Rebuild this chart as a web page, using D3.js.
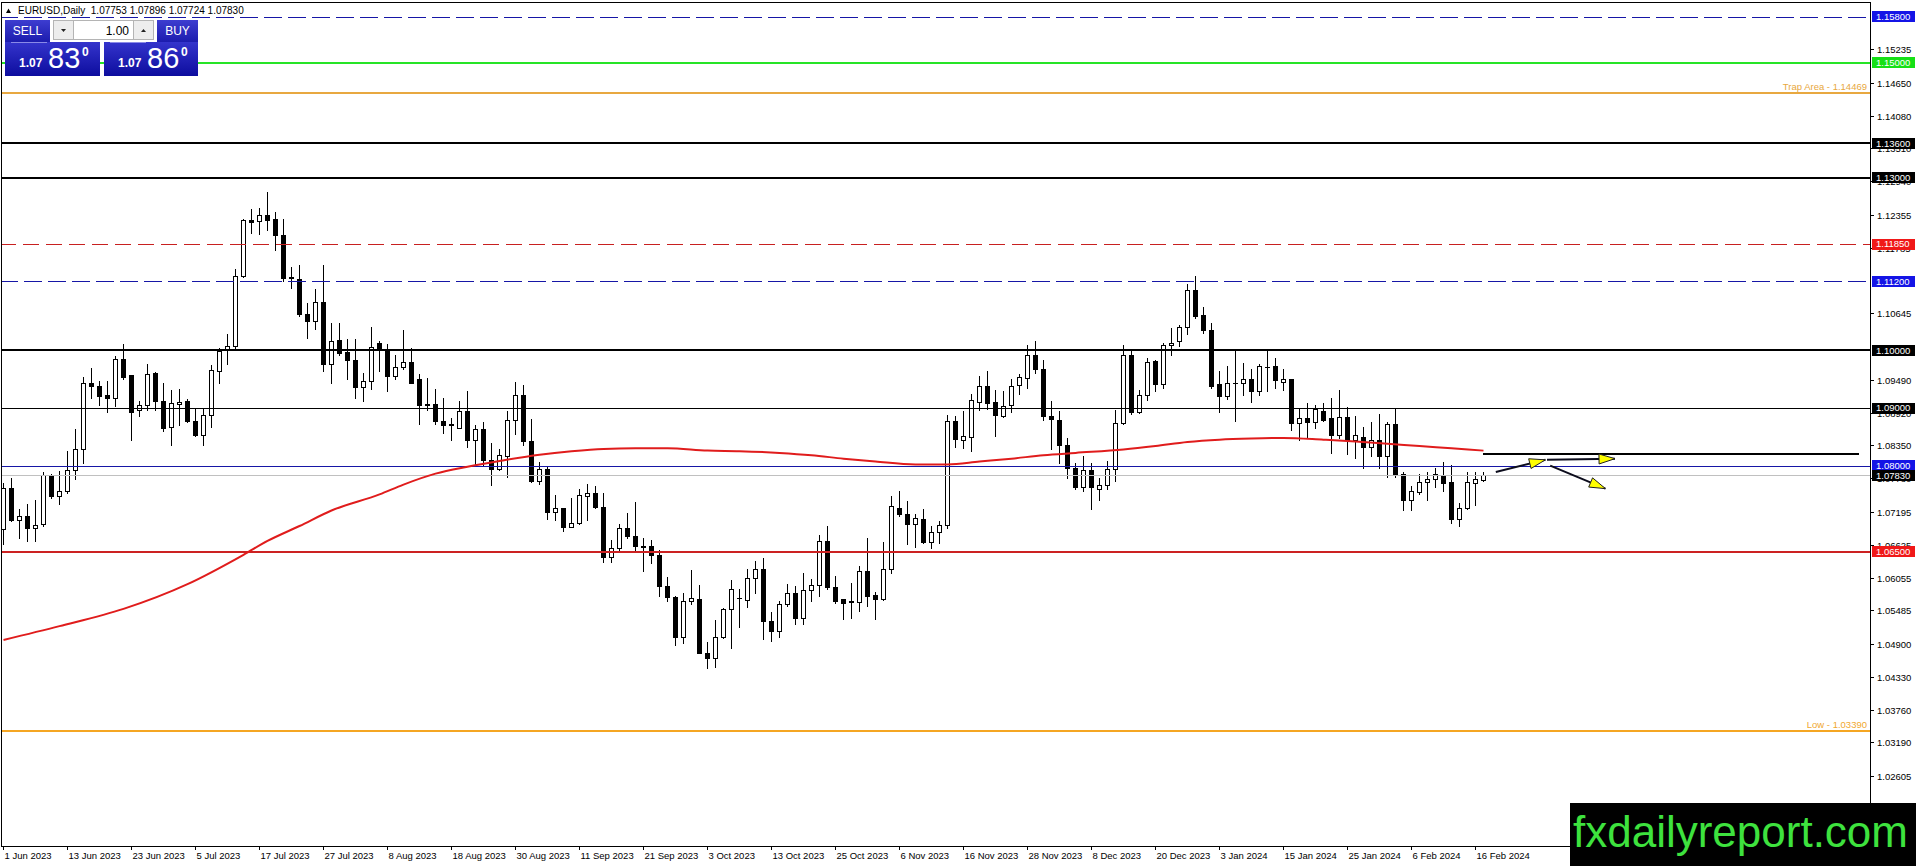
<!DOCTYPE html>
<html>
<head>
<meta charset="utf-8">
<title>EURUSD Daily</title>
<script src="https://cdn.jsdelivr.net/npm/d3@7/dist/d3.min.js"></script>
<style>
  html, body { margin: 0; padding: 0; background: #fff; overflow: hidden; }
  svg { display: block; font-family: "Liberation Sans", Arial, sans-serif; }
</style>
</head>
<body>
<svg id="chart"></svg>
<script>
// ---- data ----
const symbolTitle = 'EURUSD,Daily';
const lastBar = [1.07753, 1.07896, 1.07724, 1.07830];
const sellQuote = ['1.07', '83', '0'];
const buyQuote = ['1.07', '86', '0'];
const lotSize = '1.00';

// daily candles, 1 Jun 2023 .. 19 Feb 2024
const opens = [
  1.0689,1.0761,1.0705,1.0712,1.0692,1.0699,1.0783,1.0748,1.0756,1.0793,
  1.0829,1.0944,1.0938,1.0922,1.0918,1.0986,1.0957,1.0896,1.0905,1.0961,
  1.0913,1.0867,1.0907,1.0912,1.0878,1.0853,1.0888,1.0964,1.1001,1.1008,
  1.1129,1.1226,1.1225,1.1235,1.1228,1.1200,1.1128,1.1125,1.1064,1.1051,
  1.1085,1.0977,1.1018,1.0997,1.0984,1.0937,1.0947,1.1013,1.1000,1.0955,
  1.0972,1.0980,1.0950,1.0907,1.0907,1.0878,1.0872,1.0866,1.0895,1.0844,
  1.0864,1.0809,1.0794,1.0816,1.0879,1.0922,1.0842,1.0774,1.0794,1.0720,
  1.0726,1.0694,1.0700,1.0748,1.0752,1.0728,1.0641,1.0657,1.0691,1.0678,
  1.0660,1.0660,1.0645,1.0591,1.0572,1.0502,1.0564,1.0568,1.0475,1.0466,
  1.0503,1.0550,1.0570,1.0567,1.0605,1.0620,1.0530,1.0512,1.0560,1.0578,
  1.0535,1.0583,1.0592,1.0669,1.0589,1.0568,1.0563,1.0563,1.0616,1.0575,
  1.0568,1.0621,1.0726,1.0716,1.0699,1.0708,1.0667,1.0685,1.0697,1.0878,
  1.0845,1.0850,1.0911,1.0939,1.0911,1.0887,1.0905,1.0940,1.0953,1.0993,
  1.0968,1.0887,1.0880,1.0836,1.0796,1.0763,1.0793,1.0759,1.0766,1.0794,
  1.0874,1.0993,1.0893,1.0922,1.0982,1.0941,1.1010,1.1016,1.1041,1.1105,
  1.1061,1.1035,1.0941,1.0921,1.0943,1.0944,1.0951,1.0929,1.0972,1.0973,
  1.0946,1.0950,1.0874,1.0882,1.0876,1.0894,1.0882,1.0853,1.0885,1.0845,
  1.0850,1.0832,1.0845,1.0817,1.0872,1.0785,1.0741,1.0754,1.0772,1.0777,
  1.0782,1.0771,1.0708,1.0726,1.0770,1.07753
];
const highs = [
  1.0770,1.0779,1.0724,1.0733,1.0741,1.0788,1.0786,1.0790,1.0825,1.0864,
  1.0954,1.0970,1.0947,1.0947,1.0991,1.1012,1.0958,1.0912,1.0977,1.0962,
  1.0943,1.0932,1.0933,1.0915,1.0899,1.0899,1.0974,1.1005,1.1028,1.1141,
  1.1228,1.1245,1.1248,1.1276,1.1240,1.1229,1.1145,1.1148,1.1083,1.1107,
  1.1148,1.1048,1.1047,1.1020,1.1020,1.0961,1.1041,1.1016,1.1012,1.0993,
  1.1036,1.1004,1.0960,1.0952,1.0933,1.0917,1.0883,1.0913,1.0930,1.0871,
  1.0876,1.0840,1.0829,1.0894,1.0945,1.0940,1.0881,1.0807,1.0799,1.0749,
  1.0727,1.0744,1.0759,1.0768,1.0765,1.0753,1.0671,1.0698,1.0718,1.0737,
  1.0674,1.0671,1.0654,1.0607,1.0573,1.0579,1.0618,1.0592,1.0493,1.0531,
  1.0552,1.0602,1.0585,1.0620,1.0634,1.0640,1.0545,1.0565,1.0595,1.0591,
  1.0614,1.0603,1.0679,1.0695,1.0608,1.0569,1.0596,1.0625,1.0675,1.0581,
  1.0667,1.0747,1.0756,1.0738,1.0716,1.0725,1.0695,1.0704,1.0888,1.0886,
  1.0895,1.0925,1.0955,1.0964,1.0931,1.0929,1.0950,1.0960,1.1009,1.1017,
  1.0984,1.0912,1.0895,1.0848,1.0805,1.0817,1.0805,1.0779,1.0808,1.0896,
  1.1010,1.1003,1.0932,1.0987,1.0984,1.1013,1.1039,1.1045,1.1115,1.1130,
  1.1075,1.1047,1.0965,1.0973,1.0999,1.0979,1.0968,1.0976,1.0999,1.0987,
  1.0968,1.0951,1.0898,1.0908,1.0906,1.0909,1.0917,1.0932,1.0902,1.0887,
  1.0867,1.0876,1.0889,1.0876,1.0898,1.0788,1.0764,1.0785,1.0788,1.0795,
  1.0807,1.0801,1.0735,1.0788,1.0788,1.07896
];
const lows = [
  1.0663,1.0704,1.0675,1.0669,1.0669,1.0695,1.0744,1.0733,1.0753,1.0776,
  1.0805,1.0918,1.0906,1.0893,1.0904,1.0950,1.0844,1.0887,1.0896,1.0896,
  1.0860,1.0836,1.0870,1.0876,1.0851,1.0835,1.0867,1.0944,1.0976,1.1001,
  1.1128,1.1204,1.1202,1.1209,1.1174,1.1120,1.1109,1.1060,1.1021,1.1037,
  1.0965,1.0943,1.0992,1.0951,1.0918,1.0912,1.0933,1.0964,1.0929,1.0950,
  1.0968,1.0943,1.0873,1.0897,1.0873,1.0856,1.0844,1.0865,1.0832,1.0801,
  1.0801,1.0766,1.0792,1.0781,1.0855,1.0835,1.0771,1.0768,1.0707,1.0705,
  1.0686,1.0693,1.0699,1.0705,1.0726,1.0632,1.0632,1.0654,1.0674,1.0651,
  1.0616,1.0631,1.0574,1.0564,1.0488,1.0491,1.0560,1.0475,1.0448,1.0450,
  1.0500,1.0483,1.0519,1.0554,1.0579,1.0498,1.0496,1.0503,1.0556,1.0525,
  1.0525,1.0565,1.0573,1.0586,1.0562,1.0533,1.0536,1.0547,1.0556,1.0533,
  1.0566,1.0614,1.0712,1.0663,1.0659,1.0666,1.0657,1.0666,1.0692,1.0833,
  1.0830,1.0825,1.0896,1.0898,1.0851,1.0885,1.0893,1.0924,1.0935,1.0961,
  1.0880,1.0828,1.0805,1.0779,1.0760,1.0756,1.0724,1.0741,1.0760,1.0773,
  1.0872,1.0889,1.0892,1.0914,1.0929,1.0935,1.0993,1.1008,1.1029,1.1057,
  1.1030,1.0935,1.0893,1.0916,1.0877,1.0922,1.0910,1.0922,1.0929,1.0935,
  1.0932,1.0862,1.0845,1.0848,1.0866,1.0877,1.0822,1.0848,1.0821,1.0814,
  1.0796,1.0817,1.0795,1.0780,1.0781,1.0723,1.0723,1.0750,1.0741,1.0762,
  1.0756,1.0700,1.0695,1.0725,1.0731,1.07724
];
const closes = [
  1.0761,1.0706,1.0712,1.0692,1.0697,1.0783,1.0747,1.0756,1.0793,1.0829,
  1.0944,1.0938,1.0921,1.0918,1.0986,1.0954,1.0893,1.0905,1.0959,1.0912,
  1.0866,1.0909,1.0911,1.0877,1.0853,1.0888,1.0966,1.0999,1.1008,1.1129,
  1.1226,1.1224,1.1236,1.1226,1.1200,1.1126,1.1126,1.1063,1.1051,1.1085,
  1.0977,1.1016,1.0996,1.0983,1.0937,1.0947,1.1006,1.1002,1.0955,1.0972,
  1.0980,1.0944,1.0905,1.0905,1.0877,1.0870,1.0871,1.0895,1.0844,1.0864,
  1.0809,1.0794,1.0818,1.0880,1.0922,1.0842,1.0774,1.0794,1.0720,1.0726,
  1.0694,1.0700,1.0749,1.0752,1.0728,1.0642,1.0657,1.0691,1.0677,1.0660,
  1.0659,1.0644,1.0591,1.0572,1.0502,1.0564,1.0570,1.0475,1.0466,1.0503,
  1.0550,1.0585,1.0570,1.0605,1.0620,1.0530,1.0512,1.0560,1.0578,1.0535,
  1.0583,1.0592,1.0669,1.0589,1.0565,1.0562,1.0564,1.0616,1.0574,1.0568,
  1.0621,1.0730,1.0716,1.0699,1.0709,1.0667,1.0685,1.0697,1.0878,1.0847,
  1.0851,1.0914,1.0938,1.0909,1.0888,1.0903,1.0939,1.0954,1.0992,1.0968,
  1.0887,1.0881,1.0835,1.0796,1.0763,1.0793,1.0763,1.0766,1.0794,1.0874,
  1.0993,1.0893,1.0922,1.0980,1.0942,1.1010,1.1013,1.1041,1.1105,1.1060,
  1.1035,1.0939,1.0921,1.0944,1.0943,1.0950,1.0929,1.0973,1.0972,1.0949,
  1.0950,1.0874,1.0882,1.0876,1.0898,1.0880,1.0853,1.0885,1.0845,1.0854,
  1.0832,1.0845,1.0817,1.0872,1.0786,1.0741,1.0755,1.0772,1.0777,1.0785,
  1.0770,1.0707,1.0727,1.0772,1.0777,1.07830
];

// moving average (red), sampled at bar indices
const maBars = [0, 7, 15, 23, 30, 33, 37, 41, 47, 50, 54, 58, 62, 67, 71, 75, 79, 83, 88, 92,
  97, 101, 105, 109, 114, 118, 122, 126, 130, 134, 140, 144, 148, 152, 156, 160, 165, 169, 173, 177, 181, 185];
const maValues = [1.0497, 1.0521, 1.0551, 1.0594, 1.0645, 1.0669, 1.0695, 1.0722, 1.0750, 1.0767,
  1.0786, 1.0798, 1.0808, 1.0819, 1.0825, 1.0829, 1.0830, 1.0830, 1.0826, 1.0825,
  1.0822, 1.0818, 1.0812, 1.0807, 1.0802, 1.0802, 1.0807, 1.0812, 1.0818, 1.0822,
  1.0828, 1.0834, 1.0841, 1.0845, 1.0847, 1.0848, 1.0845, 1.0842, 1.0838, 1.0834, 1.0830, 1.0826];

// horizontal levels drawn on the chart
const levelPrices = [1.158, 1.15, 1.14469, 1.136, 1.13, 1.1185, 1.112, 1.10, 1.09, 1.08, 1.0783, 1.065, 1.0339];
const levelTags = ['1.15800', '1.15000', null, '1.13600', '1.13000', '1.11850', '1.11200', '1.10000', '1.09000', '1.08000', '1.07830', '1.06500', null];
const levelNotes = [null, null, 'Trap Area - 1.14469', null, null, null, null, null, null, null, null, null, 'Low - 1.03390'];

// price scale tick labels (the ones not fully hidden by the level tags)
const priceTicks = [1.15235, 1.14650, 1.14080, 1.13510, 1.12940, 1.12355, 1.11785, 1.10645,
  1.09490, 1.08920, 1.08350, 1.07780, 1.07195, 1.06625, 1.06055, 1.05485, 1.04900, 1.04330, 1.03760, 1.03190, 1.02605];

// time scale labels, one every 8 bars
const dateLabels = ['1 Jun 2023', '13 Jun 2023', '23 Jun 2023', '5 Jul 2023', '17 Jul 2023', '27 Jul 2023',
  '8 Aug 2023', '18 Aug 2023', '30 Aug 2023', '11 Sep 2023', '21 Sep 2023', '3 Oct 2023', '13 Oct 2023',
  '25 Oct 2023', '6 Nov 2023', '16 Nov 2023', '28 Nov 2023', '8 Dec 2023', '20 Dec 2023', '3 Jan 2024',
  '15 Jan 2024', '25 Jan 2024', '6 Feb 2024', '16 Feb 2024'];
const dateStep = 8;

// drawn analysis: pivot line and projection arrows [bar, price]
const pivotLine = [[185, 1.0820], [232, 1.0820]];
const projectionArrows = [
  [[186.6, 1.0789], [192.8, 1.0810]],
  [[193.0, 1.0810], [201.5, 1.0812]],
  [[193.4, 1.0800], [200.3, 1.0760]]
];
const watermark = 'fxdailyreport.com';

// ---- styles ----
const levelStyles = [
  { stroke: '#1616a6', width: 1, dash: '18,6', tag: '#1414e6' },
  { stroke: '#26e426', width: 2, tag: '#16e016' },
  { stroke: '#e8a840', width: 2, note: '#e8a840' },
  { stroke: '#000', width: 2, tag: '#000' },
  { stroke: '#000', width: 2, tag: '#000' },
  { stroke: '#c82020', width: 1, dash: '16,7', tag: '#f01818' },
  { stroke: '#1616a6', width: 1, dash: '18,6', tag: '#1414e6' },
  { stroke: '#000', width: 2, tag: '#000' },
  { stroke: '#000', width: 1, tag: '#000' },
  { stroke: '#1616a6', width: 1, tag: '#1414e6' },
  { stroke: '#c0c0c0', width: 1, tag: '#000' },
  { stroke: '#cc2222', width: 2, tag: '#f01818' },
  { stroke: '#f5a623', width: 2, note: '#f0a830' }
];

(function() {
  'use strict';

  const width = 1916, height = 866;
  const plotRight = 1870, plotBottom = 846;
  const axisFont = 9.5;

  const svg = d3.select('#chart').attr('width', width).attr('height', height);

  const x = d3.scaleLinear().domain([0, opens.length - 1]).range([3, 3 + 8 * (opens.length - 1)]);
  const y = d3.scaleLinear().domain([1.1609, 1.0139]).range([0, plotBottom]);
  const crisp = (v, w) => (w % 2 ? Math.round(v) + 0.5 : Math.round(v));

  svg.append('defs').append('clipPath').attr('id', 'plot-clip')
    .append('rect').attr('x', 2).attr('y', 3).attr('width', plotRight - 2).attr('height', plotBottom - 3);

  const plot = svg.append('g').attr('clip-path', 'url(#plot-clip)');

  // Candles
  const bars = d3.range(opens.length).map(i => ({
    i, o: opens[i], h: highs[i], l: lows[i], c: closes[i]
  }));
  const candles = plot.append('g').attr('class', 'candles');
  bars.forEach(d => {
    const cx = Math.round(x(d.i));
    candles.append('line')
      .attr('x1', cx + 0.5).attr('x2', cx + 0.5)
      .attr('y1', Math.round(y(d.h))).attr('y2', Math.round(y(d.l)) + 1)
      .attr('stroke', '#000').attr('stroke-width', 1)
      .attr('shape-rendering', 'crispEdges');
    const top = Math.round(y(Math.max(d.o, d.c)));
    const bot = Math.round(y(Math.min(d.o, d.c)));
    if (bot - top < 1) {
      candles.append('line')
        .attr('x1', cx - 2).attr('x2', cx + 3)
        .attr('y1', top + 0.5).attr('y2', top + 0.5)
        .attr('stroke', '#000').attr('stroke-width', 1)
        .attr('shape-rendering', 'crispEdges');
    } else {
      candles.append('rect')
        .attr('x', cx - 1.5).attr('y', top + 0.5)
        .attr('width', 4).attr('height', bot - top)
        .attr('fill', d.c >= d.o ? '#fff' : '#000')
        .attr('stroke', '#000').attr('stroke-width', 1)
        .attr('shape-rendering', 'crispEdges');
    }
  });

  // Horizontal levels (objects sit over the candles)
  const levels = plot.append('g').attr('class', 'levels');
  levelPrices.forEach((p, k) => {
    const st = levelStyles[k];
    const ly = crisp(y(p), st.width);
    levels.append('line')
      .attr('x1', 0).attr('x2', plotRight)
      .attr('y1', ly).attr('y2', ly)
      .attr('stroke', st.stroke).attr('stroke-width', st.width)
      .attr('stroke-dasharray', st.dash || null)
      .attr('shape-rendering', 'crispEdges');
    if (levelNotes[k]) {
      levels.append('text')
        .attr('x', plotRight - 3).attr('y', ly - 3)
        .attr('text-anchor', 'end')
        .attr('font-size', axisFont + 'px')
        .attr('fill', st.note)
        .text(levelNotes[k]);
    }
  });

  // Moving average
  const ma = maBars.map((b, k) => [b, maValues[k]]);
  plot.append('path')
    .datum(ma)
    .attr('d', d3.line().x(d => x(d[0]) + 0.5).y(d => y(d[1])).curve(d3.curveMonotoneX))
    .attr('fill', 'none')
    .attr('stroke', '#e01c1c')
    .attr('stroke-width', 2);

  // Frame
  svg.append('rect')
    .attr('x', 1.5).attr('y', 2.5)
    .attr('width', plotRight - 1.5).attr('height', plotBottom - 2.5)
    .attr('fill', 'none').attr('stroke', '#000').attr('stroke-width', 1)
    .attr('shape-rendering', 'crispEdges');

  // Pivot line and arrows (drawn across the price scale too)
  const lineGen = d3.line().x(d => x(d[0])).y(d => y(d[1]));
  svg.append('path')
    .datum(pivotLine)
    .attr('d', d3.line().x(d => Math.min(x(d[0]), width)).y(d => crisp(y(d[1]), 2)))
    .attr('stroke', '#000').attr('stroke-width', 2).attr('fill', 'none')
    .attr('shape-rendering', 'crispEdges');

  const arrows = svg.append('g').attr('class', 'arrows');
  projectionArrows.forEach(seg => {
    const [a, b] = seg;
    const x1 = x(a[0]), y1 = y(a[1]), x2 = x(b[0]), y2 = y(b[1]);
    const ang = Math.atan2(y2 - y1, x2 - x1);
    const len = 16, half = 5;
    const bx = x2 - len * Math.cos(ang), by = y2 - len * Math.sin(ang);
    arrows.append('path')
      .datum(seg)
      .attr('d', lineGen)
      .attr('stroke', '#0c0c1c').attr('stroke-width', 2).attr('fill', 'none');
    const pts = [
      [x2, y2],
      [bx + half * Math.sin(ang), by - half * Math.cos(ang)],
      [bx - half * Math.sin(ang), by + half * Math.cos(ang)]
    ];
    arrows.append('polygon')
      .attr('points', pts.map(p => p.join(',')).join(' '))
      .attr('fill', '#ffff00').attr('stroke', '#202020').attr('stroke-width', 1);
  });

  // Price scale
  const scaleG = svg.append('g').attr('class', 'price-scale').attr('font-size', axisFont + 'px');
  priceTicks.forEach(p => {
    const ty = Math.round(y(p)) + 0.5;
    scaleG.append('line')
      .attr('x1', plotRight).attr('x2', plotRight + 4)
      .attr('y1', ty).attr('y2', ty)
      .attr('stroke', '#000').attr('shape-rendering', 'crispEdges');
    scaleG.append('text')
      .attr('x', plotRight + 7).attr('y', ty).attr('dy', '0.35em')
      .attr('fill', '#000')
      .text(p.toFixed(5));
  });
  levelPrices.forEach((p, k) => {
    if (!levelTags[k]) return;
    const ty = y(p);
    scaleG.append('rect')
      .attr('x', plotRight + 2).attr('y', Math.round(ty - 5.5))
      .attr('width', 43).attr('height', 11)
      .attr('fill', levelStyles[k].tag);
    scaleG.append('text')
      .attr('x', plotRight + 6).attr('y', ty).attr('dy', '0.36em')
      .attr('fill', '#fff')
      .text(levelTags[k]);
  });

  // Time scale
  const timeG = svg.append('g').attr('class', 'time-scale').attr('font-size', axisFont + 'px');
  dateLabels.forEach((t, k) => {
    const tx = Math.round(x(k * dateStep)) + 0.5;
    timeG.append('line')
      .attr('x1', tx).attr('x2', tx)
      .attr('y1', plotBottom).attr('y2', plotBottom + 4)
      .attr('stroke', '#000').attr('shape-rendering', 'crispEdges');
    timeG.append('text')
      .attr('x', tx + 1).attr('y', plotBottom + 13)
      .attr('fill', '#000')
      .text(t);
  });

  // Header line
  const header = svg.append('g').attr('class', 'header');
  header.append('path').attr('d', 'M6,13 L8.5,8.5 L11,13 Z').attr('fill', '#000');
  header.append('text')
    .attr('x', 18).attr('y', 13.5)
    .attr('font-size', '10px')
    .attr('fill', '#000')
    .style('white-space', 'pre')
    .text(symbolTitle + '  ' + lastBar.map(v => v.toFixed(5)).join(' '));

  // One-click trading panel
  const defs = svg.select('defs');
  const grad = defs.append('linearGradient').attr('id', 'panel-blue')
    .attr('x1', 0).attr('y1', 0).attr('x2', 0).attr('y2', 1);
  grad.append('stop').attr('offset', '0%').attr('stop-color', '#3434cc');
  grad.append('stop').attr('offset', '100%').attr('stop-color', '#0d0d9e');
  const gradTop = defs.append('linearGradient').attr('id', 'panel-btn')
    .attr('x1', 0).attr('y1', 0).attr('x2', 0).attr('y2', 1);
  gradTop.append('stop').attr('offset', '0%').attr('stop-color', '#3d3dd0');
  gradTop.append('stop').attr('offset', '100%').attr('stop-color', '#1c1cae');

  const panel = svg.append('g').attr('class', 'trade-panel');
  panel.append('rect').attr('x', 5).attr('y', 20).attr('width', 45).attr('height', 22).attr('fill', 'url(#panel-btn)');
  panel.append('rect').attr('x', 157).attr('y', 20).attr('width', 41).attr('height', 22).attr('fill', 'url(#panel-btn)');
  panel.append('text').attr('x', 27.5).attr('y', 35).attr('text-anchor', 'middle')
    .attr('font-size', '12px').attr('fill', '#fff').text('SELL');
  panel.append('text').attr('x', 177.5).attr('y', 35).attr('text-anchor', 'middle')
    .attr('font-size', '12px').attr('fill', '#fff').text('BUY');

  panel.append('rect').attr('x', 53.5).attr('y', 20.5).attr('width', 20).attr('height', 19)
    .attr('fill', '#ededed').attr('stroke', '#b4b4b4');
  panel.append('rect').attr('x', 73.5).attr('y', 20.5).attr('width', 60).attr('height', 19)
    .attr('fill', '#fff').attr('stroke', '#b4b4b4');
  panel.append('rect').attr('x', 133.5).attr('y', 20.5).attr('width', 20).attr('height', 19)
    .attr('fill', '#ededed').attr('stroke', '#b4b4b4');
  panel.append('path').attr('d', 'M61,29 L66,29 L63.5,32 Z').attr('fill', '#222');
  panel.append('path').attr('d', 'M141,32 L146,32 L143.5,29 Z').attr('fill', '#222');
  panel.append('text').attr('x', 129).attr('y', 35).attr('text-anchor', 'end')
    .attr('font-size', '12px').attr('fill', '#000').text(lotSize);

  [[5, 95, sellQuote], [104, 94, buyQuote]].forEach(([bx, bw, q]) => {
    panel.append('rect').attr('x', bx).attr('y', 42).attr('width', bw).attr('height', 34)
      .attr('fill', 'url(#panel-blue)');
    panel.append('line').attr('x1', bx + 6).attr('x2', bx + 42).attr('y1', 42.5).attr('y2', 42.5)
      .attr('stroke', '#8a8ae8').attr('stroke-width', 1);
    panel.append('text').attr('x', bx + 14).attr('y', 67).attr('font-size', '12px')
      .attr('font-weight', 'bold').attr('fill', '#fff').text(q[0]);
    panel.append('text').attr('x', bx + 43).attr('y', 68).attr('font-size', '29px')
      .attr('fill', '#fff').text(q[1]);
    panel.append('text').attr('x', bx + 77).attr('y', 56).attr('font-size', '12px')
      .attr('font-weight', 'bold').attr('fill', '#fff').text(q[2]);
  });

  // Watermark
  svg.append('rect').attr('x', 1570).attr('y', 803).attr('width', width - 1570).attr('height', height - 803)
    .attr('fill', '#000');
  svg.append('text')
    .attr('x', 1908).attr('y', 847)
    .attr('text-anchor', 'end')
    .attr('font-size', '44px')
    .attr('fill', '#3ee23e')
    .text(watermark);
})();
</script>
</body>
</html>
